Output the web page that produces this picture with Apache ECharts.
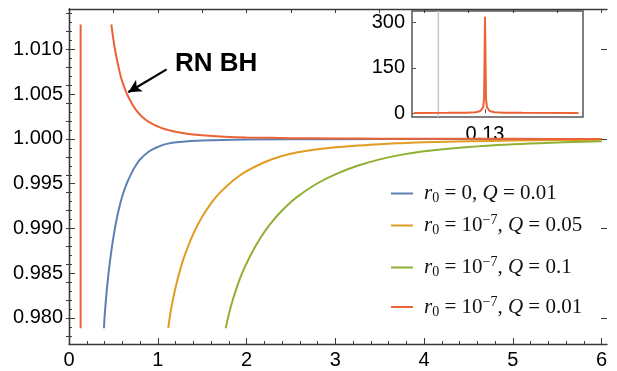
<!DOCTYPE html>
<html><head><meta charset="utf-8">
<script src="https://cdn.jsdelivr.net/npm/echarts@6/dist/echarts.min.js"></script>
<style>html,body{margin:0;padding:0;background:#fff}#c{width:617px;height:371px}</style>
</head><body><div id="c"></div>
<script>
// ---- data ----
const xTicks = [0, 1, 2, 3, 4, 5, 6];
const yTicks = [0.980, 0.985, 0.990, 0.995, 1.000, 1.005, 1.010];
const insetYTicks = [0, 150, 300];
const insetXTicks = [0.13];

const blueX = [0.394,0.40,0.41,0.42,0.44,0.46,0.48,0.50,0.53,0.56,0.60,0.65,0.70,0.75,0.80,0.90,1.00,1.10,1.25,1.5,2.0,3.0,4.0,6.0];
const blueY = [0.97885,0.9800,0.9813,0.9825,0.9845,0.9862,0.9877,0.9890,0.9907,0.9921,0.9936,0.9950,0.9961,0.9970,0.9977,0.9986,0.9991,0.99945,0.99966,0.99982,0.99993,0.99998,0.99999,1.0];

const orangeX = [1.118,1.15,1.2,1.25,1.3,1.4,1.5,1.6,1.7,1.8,1.9,2.0,2.2,2.4,2.6,2.8,3.0,3.25,3.5,3.75,4.0,4.5,5.0,5.5,6.0];
const orangeY = [0.97885,0.9810,0.9834,0.9853,0.9869,0.9894,0.9913,0.9928,0.9940,0.99495,0.99575,0.99640,0.99740,0.99810,0.99855,0.99885,0.99907,0.99926,0.99942,0.99953,0.99962,0.99974,0.99982,0.99988,0.99992];

const greenX = [1.765,1.80,1.85,1.90,1.95,2.0,2.1,2.2,2.3,2.4,2.5,2.6,2.8,3.0,3.25,3.5,3.75,4.0,4.5,5.0,5.5,6.0];
const greenY = [0.97885,0.9804,0.9822,0.9837,0.9850,0.9861,0.9880,0.9896,0.9909,0.9920,0.99295,0.99375,0.99505,0.99605,0.99700,0.99772,0.99825,0.99863,0.99910,0.99940,0.99960,0.99975];

const redX = [0.131, 0.131];
const redY = [0.97885, 1.0128];

const rnX = [0.477,0.5,0.525,0.55,0.575,0.6,0.65,0.7,0.75,0.8,0.85,0.9,0.95,1.0,1.05,1.1,1.15,1.2,1.25,1.35,1.5,1.75,2.0,2.5,3.0,3.5,4.0,5.0,6.0];
const rnY = [1.0128,1.0111,1.0096,1.0084,1.0073,1.0064,1.0051,1.0041,1.0033,1.0027,1.00226,1.0019,1.00162,1.0014,1.0012,1.00105,1.00091,1.0008,1.00071,1.00056,1.00041,1.00026,1.00017,1.00009,1.00005,1.00003,1.00002,1.00001,1.0];

const insetX = [0.1224,0.126,0.128,0.129,0.1295,0.1298,0.1299,0.13,0.1301,0.1302,0.1305,0.131,0.132,0.134,0.140];
const insetY = [0.4,0.8,1.5,3,7,20,50,320,50,20,7,3,1.5,0.8,0.4];

const insetGuideX = [0.125, 0.125];
const insetGuideY = [-13, 339];

const arrowFrom = [1.10, 1.00777];
const arrowTo = [0.668, 1.00522];

// ---- helpers ----
const zip = (xs, ys) => xs.map((x, i) => [x, ys[i]]);
const range = (a, b, s) => { const r = []; for (let v = a; v <= b + 1e-9; v += s) r.push(+v.toFixed(6)); return r; };

const COLORS = { blue: '#5E81B5', orange: '#E19C24', green: '#8FB032', red: '#EB6235' };
const FRAME = '#3a3a3a';
const XMIN = 0, XMAX = 6.06, YMIN = 0.97709, YMAX = 1.01452;

const chart = echarts.init(document.getElementById('c'), null, { renderer: 'canvas' });

const labelFont = { fontFamily: 'Liberation Sans', fontSize: 20, color: '#000' };

const rich = {
  g: { width: 6 },
  i: { fontFamily: 'Liberation Serif', fontStyle: 'italic', fontSize: 21, color: '#111', lineHeight: 24, verticalAlign: 'middle' },
  n: { fontFamily: 'Liberation Serif', fontSize: 21, color: '#111', lineHeight: 24, verticalAlign: 'middle' },
  sb: { fontFamily: 'Liberation Serif', fontSize: 14, color: '#111', lineHeight: 14, verticalAlign: 'bottom' },
  sp: { fontFamily: 'Liberation Serif', fontSize: 14, color: '#111', lineHeight: 13, verticalAlign: 'top' }
};
const legendText = {
  s1: '{g|}{i|r}{sb|0}{n| = 0, }{i|Q}{n| = 0.01}',
  s2: '{g|}{i|r}{sb|0}{n| = 10}{sp|\u22127}{n|, }{i|Q}{n| = 0.05}',
  s3: '{g|}{i|r}{sb|0}{n| = 10}{sp|\u22127}{n|, }{i|Q}{n| = 0.1}',
  s4: '{g|}{i|r}{sb|0}{n| = 10}{sp|\u22127}{n|, }{i|Q}{n| = 0.01}'
};
const legendTops = [183, 213.5, 255.5, 295];
const legends = ['s1', 's2', 's3', 's4'].map((n, k) => ({
  data: [n], left: 391, top: legendTops[k], padding: 0, orient: 'vertical',
  icon: 'rect', itemWidth: 22, itemHeight: 2, selectedMode: false,
  formatter: nm => legendText[nm], textStyle: { rich }
}));

const hiddenAxisBase = { axisLabel: { show: false }, splitLine: { show: false } };
const curve = { type: 'line', xAxisIndex: 0, yAxisIndex: 0, showSymbol: false, symbol: 'none', smooth: 0.4, lineStyle: { width: 2 } };

const option = {
  animation: false,
  backgroundColor: '#fff',
  grid: [
    { left: 69, top: 9, right: 10, bottom: 27, show: false },
    { left: 412, top: 11, width: 171, height: 106, show: true, backgroundColor: '#fff', borderColor: '#555', borderWidth: 1.5 }
  ],
  legend: legends,
  xAxis: [
    { type: 'value', gridIndex: 0, position: 'bottom', min: XMIN, max: XMAX,
      axisLine: { show: true, lineStyle: { color: FRAME, width: 1.3 } },
      axisTick: { show: true, inside: true, length: 6, customValues: xTicks, lineStyle: { color: FRAME } },
      axisLabel: Object.assign({ show: true, margin: 6, customValues: xTicks, formatter: v => String(Math.round(v)) }, labelFont),
      splitLine: { show: false } },
    Object.assign({ type: 'value', gridIndex: 0, position: 'bottom', min: XMIN, max: XMAX,
      axisLine: { show: false },
      axisTick: { show: true, inside: true, length: 3, customValues: range(0.2, 6.0, 0.2).filter(v => Math.abs(v - Math.round(v)) > 1e-6), lineStyle: { color: FRAME } } }, hiddenAxisBase),
    Object.assign({ type: 'value', gridIndex: 0, position: 'top', min: XMIN, max: XMAX,
      axisLine: { show: true, lineStyle: { color: FRAME, width: 1.3 } },
      axisTick: { show: true, inside: true, length: 4, customValues: range(0.5, 6.0, 0.5), lineStyle: { color: FRAME } } }, hiddenAxisBase),
    { type: 'value', gridIndex: 1, position: 'bottom', min: 0.12218, max: 0.14049,
      axisLine: { show: false },
      axisTick: { show: true, inside: true, length: 4, customValues: insetXTicks, lineStyle: { color: '#555' } },
      axisLabel: Object.assign({ show: true, margin: 7, customValues: insetXTicks, formatter: v => v.toFixed(2) }, labelFont),
      splitLine: { show: false } }
  ],
  yAxis: [
    { type: 'value', gridIndex: 0, position: 'left', min: YMIN, max: YMAX,
      axisLine: { show: true, lineStyle: { color: FRAME, width: 1.3 } },
      axisTick: { show: true, inside: true, length: 6, customValues: yTicks, lineStyle: { color: FRAME } },
      axisLabel: Object.assign({ show: true, margin: 6, customValues: yTicks, formatter: v => v.toFixed(3) }, labelFont),
      splitLine: { show: false } },
    Object.assign({ type: 'value', gridIndex: 0, position: 'left', min: YMIN, max: YMAX,
      axisLine: { show: false },
      axisTick: { show: true, inside: true, length: 3, customValues: range(0.978, 1.014, 0.001).filter(v => Math.abs(v * 200 - Math.round(v * 200)) > 1e-6), lineStyle: { color: FRAME } } }, hiddenAxisBase),
    Object.assign({ type: 'value', gridIndex: 0, position: 'right', min: YMIN, max: YMAX,
      axisLine: { show: true, lineStyle: { color: FRAME, width: 1.3 } },
      axisTick: { show: true, inside: true, length: 3, customValues: range(0.978, 1.014, 0.002), lineStyle: { color: FRAME } } }, hiddenAxisBase),
    Object.assign({ type: 'value', gridIndex: 0, position: 'right', min: YMIN, max: YMAX,
      axisLine: { show: false },
      axisTick: { show: true, inside: true, length: 6, customValues: [0.98, 0.99, 1.0, 1.01], lineStyle: { color: FRAME } } }, hiddenAxisBase),
    { type: 'value', gridIndex: 1, position: 'left', min: -13, max: 339,
      axisLine: { show: false },
      axisTick: { show: true, inside: true, length: 4, customValues: insetYTicks, lineStyle: { color: '#555' } },
      axisLabel: Object.assign({ show: true, margin: 7, customValues: insetYTicks, formatter: v => String(v) }, labelFont),
      splitLine: { show: false } }
  ],
  series: [
    Object.assign({}, curve, { name: 's1', data: zip(blueX, blueY), color: COLORS.blue }),
    Object.assign({}, curve, { name: 's2', data: zip(orangeX, orangeY), color: COLORS.orange }),
    Object.assign({}, curve, { name: 's3', data: zip(greenX, greenY), color: COLORS.green }),
    Object.assign({}, curve, { name: 'rn', data: zip(rnX, rnY), color: COLORS.red,
      markLine: { silent: true, animation: false, label: { show: false }, lineStyle: { color: '#000', width: 2.2, type: 'solid' },
        data: [[{ coord: arrowFrom, symbol: 'none' }, { coord: arrowTo, symbol: 'arrow', symbolSize: [10, 13] }]] } }),
    { name: 's4', type: 'line', xAxisIndex: 0, yAxisIndex: 0, data: zip(redX, redY), showSymbol: false, symbol: 'none', color: COLORS.red, lineStyle: { width: 2 } },
    { name: 'guide', type: 'line', xAxisIndex: 3, yAxisIndex: 4, data: zip(insetGuideX, insetGuideY), showSymbol: false, symbol: 'none', color: '#c8c8c8', lineStyle: { width: 1.5 }, silent: true },
    { name: 'inset', type: 'line', xAxisIndex: 3, yAxisIndex: 4, data: zip(insetX, insetY), showSymbol: false, symbol: 'none', color: COLORS.red, lineStyle: { width: 2 } }
  ],
  graphic: [
    { type: 'text', left: 175, top: 51, style: { text: 'RN BH', fontFamily: 'Liberation Sans', fontWeight: 'bold', fontSize: 26, fill: '#000' } }
  ]
};
chart.setOption(option);
</script>
</body></html>
